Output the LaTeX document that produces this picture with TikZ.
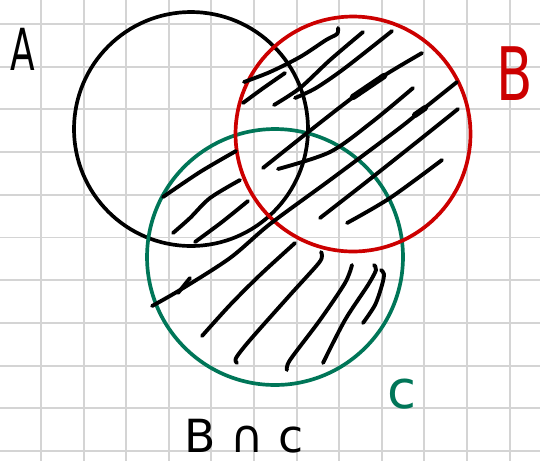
\documentclass[tikz,border=0pt]{standalone}
\usepackage{fontspec}
\usepackage{graphicx}
\usepackage{tikz}
\usepackage{xcolor}
\setmainfont{DejaVu Sans}
\usetikzlibrary{positioning}
\definecolor{setred}{RGB}{204,0,0}
\definecolor{setgreen}{RGB}{0,118,88}
\definecolor{gridgray}{RGB}{212,212,212}

\begin{document}
\begin{tikzpicture}[
      x=0.02cm, y=-0.02cm,
      setring/.style={circle, draw, line width=2.1pt, minimum size=#1, inner sep=0pt},
      hatch/.style={line width=2.2pt, line cap=round, line join=round},
      gridline/.style={gridgray, line width=1.1pt},
      lbl/.style={inner sep=0pt, anchor=base west}
  ]
    \useasboundingbox (0,0) rectangle (540,461);
    \fill[white] (0,0) rectangle (540,461);
    % squared paper
    \foreach \gx in {0,...,11} \draw[gridline] ({41+42.6*\gx},0) -- ({41+42.6*\gx},461);
    \foreach \gy in {0,...,10} \draw[gridline] (0,{24+42.7*\gy}) -- (540,{24+42.7*\gy});
    % the three sets
    \node[setring=4.68cm] (setA) at (191,129) {};
    \node[setring=5.12cm, draw=setgreen] (setC) at (275,257) {};
    \node[setring=4.70cm, draw=setred] (setB) at (353,134) {};
    % hatching
    \draw[hatch] plot[smooth] coordinates {(244,82) (270,72) (300,57) (326,40) (337,34) (338,28)};
    \draw[hatch] plot[smooth] coordinates {(243,103) (262,89) (285,73)};
    \draw[hatch] plot[smooth] coordinates {(274,105) (300,88) (330,60) (363,32)};
    \draw[hatch] plot[smooth] coordinates {(295,98) (316,88) (345,68) (392,31)};
    \draw[hatch] plot[smooth] coordinates {(263,168) (307,133) (352,98) (385,75) (422,53)};
    \draw[hatch, line width=3.6pt] (353,97) -- (384,76);
    \draw[hatch] plot[smooth] coordinates {(278,169) (330,152) (372,122) (413,88)};
    \draw[hatch] plot[smooth] coordinates {(152,306) (180,290) (230,258) (270,224) (330,180) (397,130) (422,110) (457,82)};
    \draw[hatch, line width=3.4pt] (415,115) -- (425,108);
    \draw[hatch] (178,293) -- (190,278);
    \draw[hatch] plot[smooth] coordinates {(320,218) (365,183) (413,145) (458,109)};
    \draw[hatch] plot[smooth] coordinates {(347,223) (390,198) (442,160)};
    \draw[hatch] plot[smooth] coordinates {(163,197) (200,172) (236,151)};
    \draw[hatch] plot[smooth] coordinates {(173,233) (190,218) (210,198) (240,180)};
    \draw[hatch] plot[smooth] coordinates {(195,242) (222,222) (248,201)};
    \draw[hatch] plot[smooth] coordinates {(202,336) (230,305) (260,275) (295,243)};
    \draw[hatch] plot[smooth] coordinates {(237,363) (236,358) (250,340) (290,295) (318,264) (322,256) (321,252)};
    \draw[hatch] plot[smooth] coordinates {(287,370) (290,360) (320,320) (345,283) (352,265)};
    \draw[hatch] plot[smooth] coordinates {(323,363) (345,320) (368,285) (376,270) (374,265)};
    \draw[hatch] plot[smooth] coordinates {(363,323) (375,305) (382,285) (384,274) (381,270)};
    % labels
    \node[lbl, font=\fontsize{33}{33}\selectfont] (labA) at (10,70) {\scalebox{0.62}[1]{A}};
    \node[lbl, font=\fontsize{42}{42}\selectfont, text=setred] (labB) at (496,100) {\scalebox{0.72}[1]{B}};
    \node[lbl, font=\fontsize{30}{30}\selectfont, text=setgreen] (labC) at (387,408) {c};
    \node[lbl, font=\fontsize{26}{26}\selectfont] (labBC) at (184,452) {B ∩ c};
  \end{tikzpicture}
\end{document}
